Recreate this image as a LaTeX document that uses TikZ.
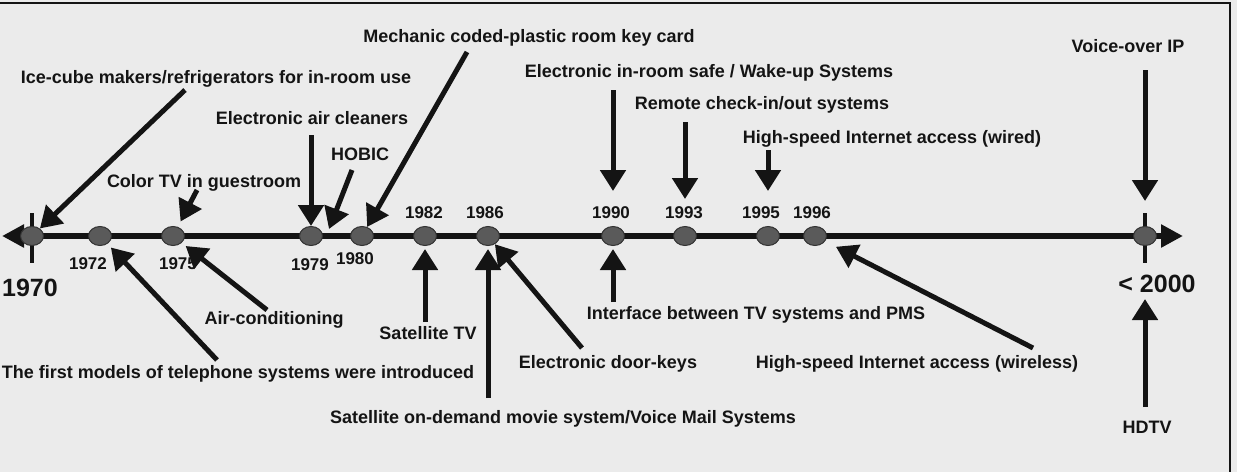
\documentclass[tikz,border=0pt]{standalone}
\usepackage{fontspec}
\setmainfont{Liberation Sans}
\usetikzlibrary{arrows.meta,shapes.geometric}
\definecolor{bg}{HTML}{EBEBEB}
\definecolor{ink}{HTML}{141414}
\definecolor{dotfill}{HTML}{5A5A5A}
\definecolor{dotline}{HTML}{333333}
\tikzset{
 lbl/.style={font=\fontsize{18}{20}\selectfont\bfseries, text=ink, inner sep=0pt, anchor=base},
 yr/.style={font=\fontsize{17}{19}\selectfont\bfseries, text=ink, inner sep=0pt, anchor=base},
 bigyr/.style={font=\fontsize{25}{28}\selectfont\bfseries, text=ink, inner sep=0pt, anchor=base},
 evt/.style={ellipse, fill=dotfill, draw=dotline, line width=1pt, minimum width=23pt, minimum height=19pt, inner sep=0pt},
 arr/.style={draw=ink, line width=5pt, -{Triangle[length=21pt,width=25pt]}},
 tline/.style={draw=ink, line width=5.5pt, {Triangle[length=22pt,width=22pt]}-{Triangle[length=22pt,width=22pt]}},
 tick/.style={draw=ink, line width=4.5pt}
}
\begin{document}
\begin{tikzpicture}[x=1pt,y=-1pt]
\useasboundingbox (0,0) rectangle (1237,472);
\fill[bg] (0,0) rectangle (1237,472);
\draw[ink, line width=2pt] (0,3) -- (1230,3) -- (1230,472);

% timeline positions
\coordinate (tlL) at (2,236);
\coordinate (tlR) at (1183,236);
\coordinate (p1970) at (32,236);
\coordinate (p2000) at (1145,236);
\draw[tline] (tlL) -- (tlR);
\draw[tick] (p1970) ++(0,-23) -- ++(0,50);
\draw[tick] (p2000) ++(0,-23) -- ++(0,50);

% event dots
\node[evt] (d1970) at (p1970) {};
\node[evt] (d1972) at (100,236) {};
\node[evt] (d1975) at (173,236) {};
\node[evt] (d1979) at (311,236) {};
\node[evt] (d1980) at (362,236) {};
\node[evt] (d1982) at (425,236) {};
\node[evt] (d1986) at (488,236) {};
\node[evt] (d1990) at (613,236) {};
\node[evt] (d1993) at (685,236) {};
\node[evt] (d1995) at (768,236) {};
\node[evt] (d1996) at (815,236) {};
\node[evt] (d2000) at (p2000) {};

% year labels
\node[bigyr] (y1970) at (30,296) {1970};
\node[yr] (y1972) at (88,269) {1972};
\node[yr] (y1975) at (178,269) {1975};
\node[yr] (y1979) at (310,270) {1979};
\node[yr] (y1980) at (355,264) {1980};
\node[yr] (y1982) at (424,218) {1982};
\node[yr] (y1986) at (485,218) {1986};
\node[yr] (y1990) at (611,218) {1990};
\node[yr] (y1993) at (684,218) {1993};
\node[yr] (y1995) at (761,218) {1995};
\node[yr] (y1996) at (812,218) {1996};
\node[bigyr] (y2000) at (1157,292) {< 2000};

% event labels above
\node[lbl] (mech) at (529,42.5) {Mechanic coded-plastic room key card};
\node[lbl] (ice) at (216,83.5) {Ice-cube makers/refrigerators for in-room use};
\node[lbl] (aircl) at (312,124.5) {Electronic air cleaners};
\node[lbl] (hobic) at (360,160.5) {HOBIC};
\node[lbl] (ctv) at (204,187.5) {Color TV in guestroom};
\node[lbl] (safe) at (709,77.5) {Electronic in-room safe / Wake-up Systems};
\node[lbl] (remote) at (762,109.5) {Remote check-in/out systems};
\node[lbl] (wired) at (892,143.5) {High-speed Internet access (wired)};
\node[lbl] (voip) at (1128,52.5) {Voice-over IP};
% event labels below
\node[lbl] (aircon) at (274,324.5) {Air-conditioning};
\node[lbl] (tel) at (238,378.5) {The first models of telephone systems were introduced};
\node[lbl] (sattv) at (428,339.5) {Satellite TV};
\node[lbl] (ondem) at (563,423.5) {Satellite on-demand movie system/Voice Mail Systems};
\node[lbl] (door) at (608,368.5) {Electronic door-keys};
\node[lbl] (iface) at (756,319.5) {Interface between TV systems and PMS};
\node[lbl] (wless) at (917,368.5) {High-speed Internet access (wireless)};
\node[lbl] (hdtv) at (1147,433.5) {HDTV};

% arrow tails
\coordinate (s-ice) at (185,90);
\coordinate (s-ctv) at (197,190);
\coordinate (s-aircl) at (311,135);
\coordinate (s-hobic) at (352,170);
\coordinate (t-hobic) at (329,229);
\coordinate (s-mech) at (467,52);
\coordinate (s-safe) at (613,90);
\coordinate (s-remote) at (685,122);
\coordinate (s-wired) at (768,150);
\coordinate (s-voip) at (1145,70);
\coordinate (s-tel) at (217,360);
\coordinate (s-aircon) at (267,310);
\coordinate (s-sattv) at (425,322);
\coordinate (s-ondem) at (488,398);
\coordinate (s-door) at (582,348);
\coordinate (s-iface) at (613,302);
\coordinate (s-wless) at (1033,348);
\coordinate (s-hdtv) at (1145,407);

% arrows
\draw[arr] (s-ice) -- (d1970);
\draw[arr, shorten >=6pt] (s-ctv) -- (d1975);
\draw[arr] (s-aircl) -- (d1979);
\draw[arr] (s-hobic) -- (t-hobic);
\draw[arr] (s-mech) -- (d1980);
\draw[arr, shorten >=35pt] (s-safe) -- (d1990);
\draw[arr, shorten >=27pt] (s-remote) -- (d1993);
\draw[arr, shorten >=35pt] (s-wired) -- (d1995);
\draw[arr, shorten >=25pt] (s-voip) -- (d2000);
\draw[arr, shorten >=5pt] (s-tel) -- (d1972);
\draw[arr, shorten >=5pt] (s-aircon) -- (d1975);
\draw[arr, shorten >=3pt] (s-sattv) -- (d1982);
\draw[arr, shorten >=3pt] (s-ondem) -- (d1986);
\draw[arr] (s-door) -- (d1986);
\draw[arr, shorten >=3pt] (s-iface) -- (d1990);
\draw[arr, shorten >=12pt] (s-wless) -- (d1996);
\draw[arr, shorten >=53pt] (s-hdtv) -- (d2000);
\end{tikzpicture}
\end{document}
